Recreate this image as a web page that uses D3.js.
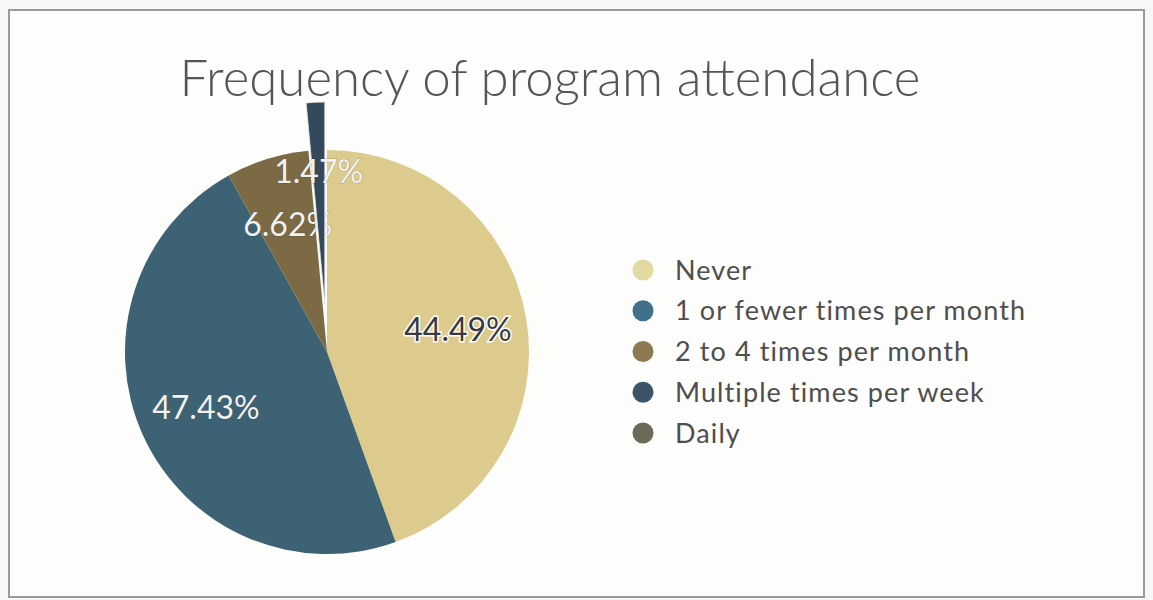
<!DOCTYPE html>
<meta charset="utf-8">
<style>
body { margin: 0; background: #f7f7f6; }
svg text { font-family: Lato, "Open Sans", sans-serif; }
.title { font-size: 51px; font-weight: 300; fill: #555; }
.legend text { font-size: 27px; fill: #4e4e4e; letter-spacing: 1.1px; }
.lbl { font-size: 32px; font-weight: 400; }
</style>
<svg width="1153" height="600"></svg>
<script src="https://d3js.org/d3.v7.min.js"></script>
<script>

var categories = ["Never", "1 or fewer times per month", "2 to 4 times per month", "Multiple times per week", "Daily"];
var values = [44.49, 47.43, 6.62, 1.47, 0];
var colors = ["#dccb8d", "#3d6273", "#7b6a44", "#34495b", "#6b6653"];
var legendColors = ["#e3d9a2", "#41708a", "#8c7a52", "#3b5468", "#6d6a5a"];
var exploded = "Multiple times per week";

var svg = d3.select("svg"),
    width = +svg.attr("width"),
    height = +svg.attr("height"),
    radius = 202;

// frame
svg.append("rect")
    .attr("x", 9).attr("y", 10)
    .attr("width", 1135).attr("height", 587)
    .attr("fill", "#fdfdfc")
    .attr("stroke", "#9a9a9a")
    .attr("stroke-width", 2);

svg.append("text")
    .attr("class", "title")
    .attr("x", 550).attr("y", 96)
    .attr("text-anchor", "middle")
    .text("Frequency of program attendance");

var pie = d3.pie().sort(null).value(function(d) { return d.value; });
var data = categories.map(function(c, i) { return {name: c, value: values[i], color: colors[i]}; });
var arcs = pie(data);

var arc = d3.arc().innerRadius(0).outerRadius(radius);
var labelArc = d3.arc().innerRadius(133).outerRadius(133);

var g = svg.append("g").attr("transform", "translate(327,352)");

function offset(d) {
  if (d.data.name !== exploded) return [0, 0];
  var a = (d.startAngle + d.endAngle) / 2;
  return [48 * Math.sin(a), -48 * Math.cos(a)];
}

var slice = g.selectAll("g.slice")
  .data(arcs.filter(function(d) { return d.value > 0; }))
  .enter().append("g")
    .attr("class", "slice")
    .attr("transform", function(d) { var o = offset(d); return "translate(" + o[0] + "," + o[1] + ")"; });

slice.append("path")
    .attr("d", arc)
    .attr("fill", function(d) { return d.data.color; })
    .attr("stroke", function(d) { return d.data.name === exploded ? "#e8e8e4" : "none"; })
    .attr("stroke-width", 0.8);

slice.append("text")
    .attr("class", "lbl")
    .attr("transform", function(d) { return "translate(" + labelArc.centroid(d) + ")"; })
    .attr("text-anchor", "middle")
    .attr("dy", "0.36em")
    .attr("fill", function(d, i) { return i === 0 ? "#3a3a3a" : "#f2f2f2"; })
    .attr("stroke", function(d, i) { return i === 0 ? "#ffffff" : "#2a2a2a"; })
    .attr("stroke-width", function(d, i) { return i === 0 ? 3 : 1; })
    .attr("stroke-opacity", function(d, i) { return i === 0 ? 1 : 0.3; })
    .attr("paint-order", "stroke")
    .text(function(d) { return d3.format(".2f")(d.value) + "%"; });

var y = d3.scalePoint().domain(categories).range([270, 433]);

var legend = svg.append("g").attr("class", "legend")
  .selectAll("g")
  .data(categories)
  .enter().append("g")
    .attr("transform", function(d) { return "translate(643," + y(d) + ")"; });

legend.append("circle")
    .attr("r", 10.5)
    .attr("fill", function(d, i) { return legendColors[i]; });

legend.append("text")
    .attr("x", 32)
    .attr("dy", "0.36em")
    .text(function(d) { return d; });

</script>
